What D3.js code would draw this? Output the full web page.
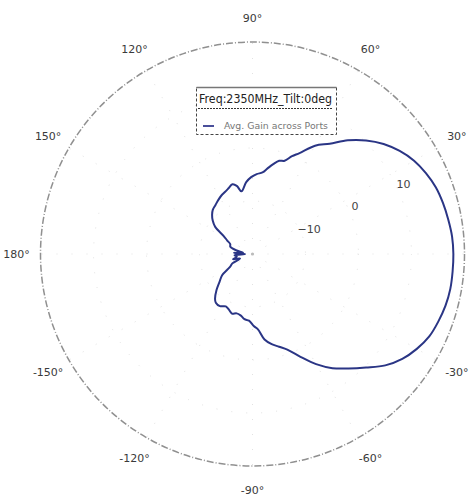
<!DOCTYPE html>
<html>
<head>
<meta charset="utf-8">
<script src="https://cdn.jsdelivr.net/npm/d3@7"></script>
<style>
  html, body { margin: 0; padding: 0; background: #fff; }
  svg { display: block; font-family: "DejaVu Sans", sans-serif; }
</style>
</head>
<body>
<svg id="chart" width="474" height="497"></svg>
<script>
// Angle in degrees (0 = right, counter-clockwise), average gain in dB
const angleDeg = [180, 176, 172, 167, 162, 156, 152, 148, 144, 140, 136, 132, 127, 122, 118, 114, 110, 106, 103, 100,
  95, 91, 87, 83, 80, 77, 74, 71, 68, 65, 60, 55, 50, 45, 40, 35, 30, 25, 20, 15, 10, 5, 0,
  -5, -10, -15, -20, -25, -30, -35, -40, -45, -50, -55, -60, -65, -70, -74, -78, -82, -86, -89, -93, -97,
  -101, -105, -109, -113, -117, -122, -127, -130, -135, -140, -145, -150, -155, -160, -165, -170, -176];
const gainDb = [-18.6, -16.5, -18.2, -16.8, -15.6, -15.4, -14.6, -13.6, -11.3, -10.2, -9.4, -8.8, -8.4, -7.9, -7.5, -7.2, -6.8, -6.3, -6.8, -8.0,
  -6.4, -5.5, -4.9, -4.5, -3.6, -2.6, -1.7, -1.4, -0.1, 1.0, 3.6, 5.4, 8.0, 10.3, 12.3, 13.9, 15.2, 16.1, 16.8, 17.2, 17.5, 17.8, 17.9,
  17.9, 17.9, 17.7, 17.3, 16.8, 15.8, 14.5, 12.7, 10.3, 8.2, 6.3, 4.0, 1.4, -0.8, -1.8, -2.6, -3.7, -5.8, -6.4, -7.4, -7.6,
  -8.2, -8.4, -8.1, -8.6, -8.9, -8.4, -8.5, -9.0, -10.4, -11.9, -13.0, -15.1, -15.8, -17.5, -16.2, -17.0, -16.6];

const rTicks = [-10, 0, 10];
const rDomain = [-20, 20];
const thetaTicks = [0, 30, 60, 90, 120, 150, 180, -150, -120, -90, -60, -30];
const thetaLabels = ["", "30°", "60°", "90°", "120°", "150°", "180°", "-150°", "-120°", "-90°", "-60°", "-30°"];
const legendTitle = "Freq:2350MHz_Tilt:0deg";
const seriesName = "Avg. Gain across Ports";

const cx = 252.5, cy = 254, R = 212;
const svg = d3.select("#chart");
const g = svg.append("g").attr("transform", `translate(${cx},${cy})`);
const r = d3.scaleLinear().domain(rDomain).range([0, R]);
const toRad = d => (90 - d) * Math.PI / 180; // d3 angle (clockwise from top)

// faint grid rings
g.selectAll("circle.ring").data(rTicks).join("circle")
  .attr("class", "ring").attr("r", d => r(d))
  .attr("fill", "none").attr("stroke", "#e2e2e2").attr("stroke-width", 1)
  .attr("stroke-dasharray", "1,14");
// faint spokes
g.selectAll("line.spoke").data(thetaTicks).join("line")
  .attr("class", "spoke")
  .attr("x1", 0).attr("y1", 0)
  .attr("x2", d => R * Math.sin(toRad(d)))
  .attr("y2", d => -R * Math.cos(toRad(d)))
  .attr("stroke", "#e2e2e2").attr("stroke-width", 1)
  .attr("stroke-dasharray", "1,14");

// outer circle
g.append("circle").attr("r", R).attr("fill", "none")
  .attr("stroke", "#909090").attr("stroke-width", 1.5)
  .attr("stroke-dasharray", "7,2,1,2");

// center dot
g.append("circle").attr("r", 1.6).attr("fill", "#bbb");

// angle labels
const labR = 236;
g.selectAll("text.ang").data(thetaTicks.map((t, i) => ({t, l: thetaLabels[i]})).filter(d => d.l))
  .join("text").attr("class", "ang")
  .attr("x", d => labR * Math.sin(toRad(d.t)))
  .attr("y", d => -labR * Math.cos(toRad(d.t)))
  .attr("text-anchor", "middle").attr("dominant-baseline", "central")
  .attr("font-size", 11).attr("fill", "#3a3a3a")
  .text(d => d.l);

// radial labels
const rlAng = 25 * Math.PI / 180;
g.selectAll("text.rl").data(rTicks).join("text").attr("class", "rl")
  .attr("x", d => r(d) * Math.cos(rlAng) + (d < 0 ? -3 : d === 0 ? 3 : 0))
  .attr("y", d => -r(d) * Math.sin(rlAng) + 1)
  .attr("font-size", 11).attr("fill", "#444")
  .text(d => d < 0 ? "\u2212" + Math.abs(d) : d);

// pattern
const pts = angleDeg.map((a, i) => [toRad(a), r(gainDb[i])]);
const line = d3.lineRadial().angle(d => d[0]).radius(d => d[1]).curve(d3.curveCatmullRomClosed.alpha(0.5));
g.append("path").datum(pts).attr("d", line)
  .attr("fill", "none").attr("stroke", "#2a3585").attr("stroke-width", 2);

// legend
const lg = svg.append("g");
lg.append("rect").attr("x", 196.5).attr("y", 87.5).attr("width", 140).attr("height", 47)
  .attr("fill", "#fff").attr("stroke", "#444").attr("stroke-width", 1)
  .attr("stroke-dasharray", "3,2");
lg.append("line").attr("x1", 196.5).attr("x2", 336.5).attr("y1", 87.5).attr("y2", 87.5)
  .attr("stroke", "#777").attr("stroke-width", 1.5);
lg.append("text").attr("x", 199).attr("y", 103).attr("font-size", 11.5).attr("fill", "#222")
  .attr("textLength", 133).attr("lengthAdjust", "spacingAndGlyphs")
  .text(legendTitle);
lg.append("line").attr("x1", 198).attr("x2", 333).attr("y1", 108.5).attr("y2", 108.5)
  .attr("stroke", "#333").attr("stroke-width", 1).attr("stroke-dasharray", "2,1");
lg.append("line").attr("x1", 203).attr("x2", 214).attr("y1", 126).attr("y2", 126)
  .attr("stroke", "#4a4f9a").attr("stroke-width", 2);
lg.append("text").attr("x", 224).attr("y", 128.5).attr("font-size", 8).attr("fill", "#777")
  .attr("textLength", 104).attr("lengthAdjust", "spacingAndGlyphs")
  .text(seriesName);
</script>
</body>
</html>
